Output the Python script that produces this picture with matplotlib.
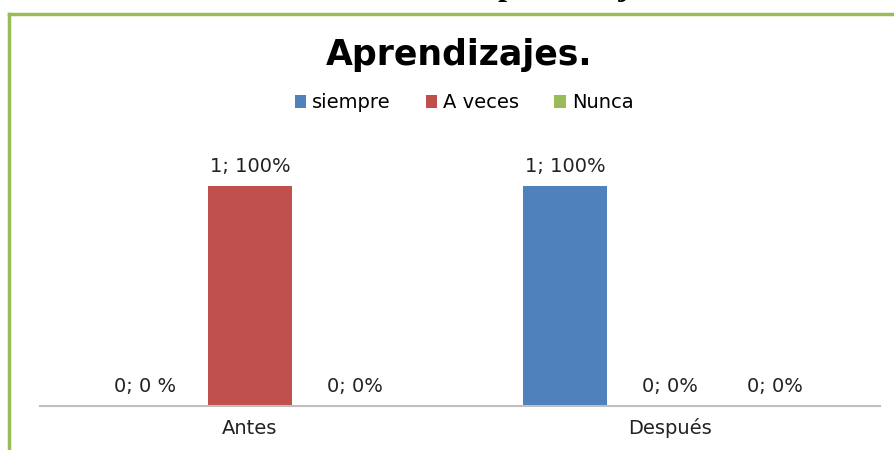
import matplotlib.pyplot as plt
import numpy as np

categories = ['Antes', 'Después']
series = ['siempre', 'A veces', 'Nunca']
values = {
    'siempre': [0, 1],
    'A veces': [1, 0],
    'Nunca': [0, 0],
}
labels = {
    'siempre': ['0; 0 %', '1; 100%'],
    'A veces': ['1; 100%', '0; 0%'],
    'Nunca': ['0; 0%', '0; 0%'],
}
colors = {'siempre': '#4f81bd', 'A veces': '#c0504d', 'Nunca': '#9bbb59'}

fig = plt.figure(figsize=(8.95, 4.5), dpi=100)

# green frame (top and left edges visible)
fig.add_artist(plt.Line2D([9 / 895, 1], [1 - 14 / 450, 1 - 14 / 450], color='#9bbb59', lw=2.5))
fig.add_artist(plt.Line2D([9 / 895, 9 / 895], [0, 1 - 14 / 450], color='#9bbb59', lw=2.5))

# heading above the frame, mostly cut off by the picture edge
fig.text(566 / 895, 1 + 5 / 450, 'Aprendizajes', ha='center', va='baseline',
         family='Liberation Serif', fontweight='bold', fontsize=23)

ax = fig.add_axes([40 / 895, 1 - 406 / 450, 840 / 895, 275 / 450])
x = np.arange(len(categories))
slot = 0.25
for i, s in enumerate(series):
    pos = x + (i - 1) * slot
    ax.bar(pos, values[s], width=0.198, color=colors[s], label=s)
    for p, v, t in zip(pos, values[s], labels[s]):
        ax.text(p, v + 0.045, t, ha='center', va='bottom', fontsize=14, color='#222222')

ax.set_xlim(-0.5, 1.5)
ax.set_ylim(0, 1.25)
ax.set_yticks([])
ax.set_xticks(x)
ax.set_xticklabels(categories, fontsize=14, color='#222222')
ax.tick_params(axis='x', length=0, pad=9)
for sp in ['top', 'left', 'right']:
    ax.spines[sp].set_visible(False)
ax.spines['bottom'].set_color('#bfbfbf')
ax.spines['bottom'].set_linewidth(1.5)

fig.text(459 / 895, 1 - 55 / 450, 'Aprendizajes.', ha='center', va='center',
         fontsize=25, fontweight='bold')
fig.legend(loc='center', bbox_to_anchor=(464 / 895, 1 - 103 / 450), ncol=3,
           frameon=False, fontsize=14, handlelength=0.6, handleheight=0.6,
           handletextpad=0.3, columnspacing=1.8)

fig.savefig('out.png', dpi=100)
